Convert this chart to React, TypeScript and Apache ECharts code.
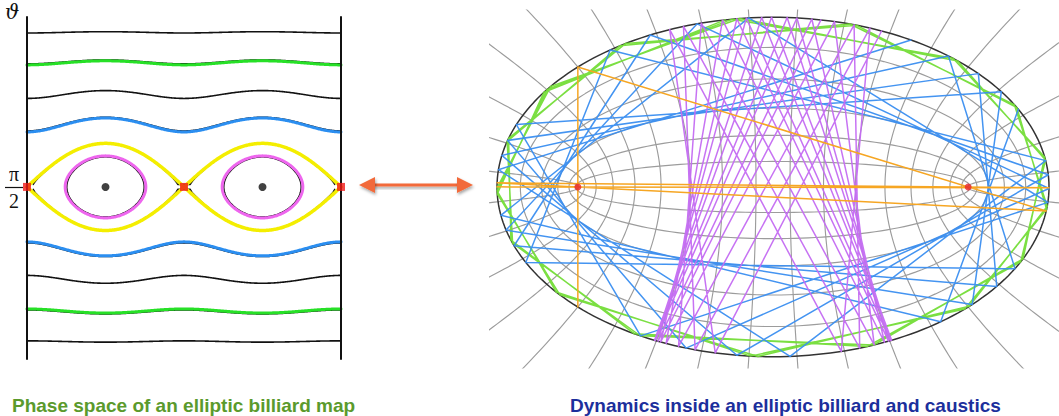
import React, { useEffect, useRef } from 'react';
import * as echarts from 'echarts';

// ---------- Left panel: phase space of the elliptic billiard map ----------
const mapAxisRatio = 0.92; // b/a of the ellipse whose billiard map is drawn
const mapWaveDeviations = [0.508, 0.818, 1.128, 1.423]; // |theta - pi/2| at s = 0 (rad)
const mapWaveColors = ['#2b8ef0', '#111111', '#27e027', '#111111'];
const mapWaveColored = [true, false, true, false];
const mapIslandDeviation = 0.287; // |theta - pi/2| at island centre (rad)
const mapHyperbolicPoints = [0, Math.PI, 2 * Math.PI]; // s of the 2-periodic major-axis orbit
const mapEllipticPoints = [Math.PI / 2, (3 * Math.PI) / 2]; // s of the minor-axis orbit

// ---------- Right panel: billiard table, confocal grid, caustics ----------
const tableSemiAxes = [1, 0.7071];
const gridEllipseMu = [0.15, 0.3, 0.45, 0.6, 0.75];
const gridHyperbolaNuDeg = [5, 15, 25, 35, 45, 55, 65, 75, 85, 95, 105, 115, 125, 135, 145, 155, 165, 175,
  185, 195, 205, 215, 225, 235, 245, 255, 265, 275, 285, 295, 305, 315, 325, 335, 345, 355];
const causticLevels = [0.41, 0.107, -0.4075]; // green, blue, purple (product of focal distances)
const orbitStartDeg = [100, 60, 80];
const orbitBounces = [36, 28, 30];
const orbitColors = ['#74dd38', '#3a8ef0', '#c46cf2'];
const focalOrbitStartDeg = 135;
const focalOrbitSteps = [4, 1]; // backward, forward

// ---------- geometry helpers ----------
type P = [number, number];
function ellipsePoint(a: number, b: number, phi: number): P {
  return [a * Math.cos(phi), b * Math.sin(phi)];
}
function frame(a: number, b: number, phi: number) {
  let tx = -a * Math.sin(phi), ty = b * Math.cos(phi);
  const l = Math.hypot(tx, ty);
  tx /= l; ty /= l;
  return { tx, ty, nx: -ty, ny: tx };
}
function direction(a: number, b: number, phi: number, theta: number): P {
  const f = frame(a, b, phi);
  return [Math.cos(theta) * f.tx + Math.sin(theta) * f.nx, Math.cos(theta) * f.ty + Math.sin(theta) * f.ny];
}
function focalProduct(a: number, b: number, p: P, u: P) {
  const c = Math.sqrt(a * a - b * b);
  const l1 = (p[0] + c) * u[1] - p[1] * u[0];
  const l2 = (p[0] - c) * u[1] - p[1] * u[0];
  return l1 * l2;
}
function levelAt(a: number, b: number, phi: number, theta: number) {
  return focalProduct(a, b, ellipsePoint(a, b, phi), direction(a, b, phi, theta));
}
function solveTheta(a: number, b: number, phi: number, F: number): number | null {
  if (levelAt(a, b, phi, Math.PI / 2) > F + 1e-12) return null;
  let lo = 0, hi = Math.PI / 2;
  for (let i = 0; i < 50; i++) {
    const m = (lo + hi) / 2;
    if (levelAt(a, b, phi, m) > F) lo = m; else hi = m;
  }
  return (lo + hi) / 2;
}
function bounce(a: number, b: number, p: P, u: P) {
  const A2 = a * a, B2 = b * b;
  const qa = (u[0] * u[0]) / A2 + (u[1] * u[1]) / B2;
  const qb = 2 * ((p[0] * u[0]) / A2 + (p[1] * u[1]) / B2);
  const t = -qb / qa;
  let q: P = [p[0] + t * u[0], p[1] + t * u[1]];
  const s = Math.sqrt((q[0] * q[0]) / A2 + (q[1] * q[1]) / B2);
  q = [q[0] / s, q[1] / s];
  let nx = q[0] / A2, ny = q[1] / B2;
  const nl = Math.hypot(nx, ny);
  nx /= nl; ny /= nl;
  const d = u[0] * nx + u[1] * ny;
  return { q, u: [u[0] - 2 * d * nx, u[1] - 2 * d * ny] as P };
}
function orbit(a: number, b: number, p: P, u: P, n: number): P[] {
  const pts: P[] = [p];
  for (let i = 0; i < n; i++) {
    const r = bounce(a, b, p, u);
    p = r.q; u = r.u;
    pts.push(p);
  }
  return pts;
}

// ---------- build series ----------
function buildSeries() {
  const series: any[] = [];
  const la = 1, lb = mapAxisRatio, lc = Math.sqrt(la * la - lb * lb);
  const L = (data: any[], color: string, width: number, z: number, grid = 0, opacity = 1) => ({
    type: 'line', xAxisIndex: grid, yAxisIndex: grid, data, showSymbol: false, symbol: 'none',
    silent: true, z, clip: true, lineStyle: { color, width, opacity, cap: 'round', join: 'round' },
  });

  const fullCurve = (F: number) => {
    const up: P[] = [], lo: P[] = [];
    const N = 400;
    for (let i = 0; i <= N; i++) {
      const phi = (2 * Math.PI * i) / N;
      const th = solveTheta(la, lb, phi, F);
      if (th === null) continue;
      up.push([phi, Math.PI - th]);
      lo.push([phi, th]);
    }
    return [up, lo];
  };
  const island = (F: number, centre: number) => {
    const half = Math.PI / 2 - Math.asin(Math.min(1, Math.sqrt(-F) / lc));
    const up: P[] = [], lo: P[] = [];
    const N = 160;
    for (let i = 0; i <= N; i++) {
      const phi = centre - half * Math.cos((Math.PI * i) / N);
      const th = solveTheta(la, lb, phi, F);
      const t = th === null ? Math.PI / 2 : th;
      up.push([phi, Math.PI - t]);
      lo.push([phi, t]);
    }
    return up.concat(lo.reverse());
  };

  series.push(L([[0, -0.02], [0, Math.PI]], '#111', 2, 5));
  series.push(L([[2 * Math.PI, -0.02], [2 * Math.PI, Math.PI]], '#111', 2, 5));

  mapWaveDeviations.forEach((d, i) => {
    const F = levelAt(la, lb, 0, Math.PI / 2 - d);
    if (mapWaveColored[i]) {
      const Fb = levelAt(la, lb, 0, Math.PI / 2 - d - 0.01);
      fullCurve(Fb).forEach((c) => series.push(L(c, '#111', 1.4, 3)));
      fullCurve(F).forEach((c) => series.push(L(c, mapWaveColors[i], 3, 4)));
    } else {
      fullCurve(F).forEach((c) => series.push(L(c, mapWaveColors[i], 1.6, 3)));
    }
  });
  fullCurve(-0.002).forEach((c) => series.push(L(c, '#111', 1.4, 3)));
  fullCurve(0).forEach((c) => series.push(L(c, '#f4ee00', 3.5, 4)));
  const Fi = levelAt(la, lb, Math.PI / 2, Math.PI / 2 - mapIslandDeviation);
  const Fib = levelAt(la, lb, Math.PI / 2, Math.PI / 2 - mapIslandDeviation + 0.01);
  mapEllipticPoints.forEach((cx) => {
    series.push(L(island(Fib, cx), '#111', 1.3, 3));
    series.push(L(island(Fi, cx), '#ee66ee', 3, 4));
  });
  series.push({
    type: 'scatter', xAxisIndex: 0, yAxisIndex: 0, silent: true, z: 6, clip: false,
    symbol: 'circle', symbolSize: 8, itemStyle: { color: '#111' },
    data: mapEllipticPoints.map((s) => [s, Math.PI / 2]),
  });
  series.push({
    type: 'scatter', xAxisIndex: 0, yAxisIndex: 0, silent: true, z: 6, clip: false,
    symbol: 'rect', symbolSize: 8, itemStyle: { color: '#f01818' },
    data: mapHyperbolicPoints.map((s) => [s, Math.PI / 2]),
  });

  // ---------- right panel ----------
  const [A, B] = tableSemiAxes;
  const C = Math.sqrt(A * A - B * B);
  gridHyperbolaNuDeg.forEach((deg) => {
    const nu = (deg * Math.PI) / 180;
    const pts: P[] = [];
    for (let m = 0; m <= 1.6001; m += 0.02) pts.push([C * Math.cosh(m) * Math.cos(nu), C * Math.sinh(m) * Math.sin(nu)]);
    series.push(L(pts, '#9c9c9c', 1.15, 1, 1));
  });
  gridEllipseMu.forEach((mu) => {
    const pts: P[] = [];
    for (let i = 0; i <= 180; i++) {
      const nu = (2 * Math.PI * i) / 180;
      pts.push([C * Math.cosh(mu) * Math.cos(nu), C * Math.sinh(mu) * Math.sin(nu)]);
    }
    series.push(L(pts, '#9c9c9c', 1.15, 1, 1));
  });
  const boundary: P[] = [];
  for (let i = 0; i <= 240; i++) boundary.push(ellipsePoint(A, B, (2 * Math.PI * i) / 240));
  series.push(L(boundary, '#333', 1.5, 2, 1));

  causticLevels.forEach((F, k) => {
    const phi = (orbitStartDeg[k] * Math.PI) / 180;
    const th = solveTheta(A, B, phi, F) ?? Math.PI / 4;
    const pts = orbit(A, B, ellipsePoint(A, B, phi), direction(A, B, phi, th), orbitBounces[k]);
    series.push(L(pts, orbitColors[k], 1.5, 3 + k, 1, 0.95));
  });

  const phi0 = (focalOrbitStartDeg * Math.PI) / 180;
  const p0 = ellipsePoint(A, B, phi0);
  const toward = (q: [number, number]): P => {
    const dx = q[0] - p0[0], dy = q[1] - p0[1], l = Math.hypot(dx, dy);
    return [dx / l, dy / l];
  };
  const back = orbit(A, B, p0, toward([C, 0]), focalOrbitSteps[0]).reverse();
  const fwd = orbit(A, B, p0, toward([-C, 0]), focalOrbitSteps[1]).slice(1);
  series.push(L(back.concat(fwd), '#f6a623', 1.5, 7, 1));
  series.push({
    type: 'scatter', xAxisIndex: 1, yAxisIndex: 1, silent: true, z: 8,
    symbol: 'circle', symbolSize: 7, itemStyle: { color: '#e8262a' },
    data: [[-C, 0], [C, 0]],
  });
  return series;
}

export default function App() {
  const ref = useRef<HTMLDivElement>(null);
  useEffect(() => {
    if (!ref.current) return;
    const chart = echarts.init(ref.current, undefined, { renderer: 'svg' });
    const axisOff = { show: false, splitLine: { show: false } };
    const arrowColor = '#f26b3b';
    const shadow = { shadowBlur: 3, shadowColor: 'rgba(0,0,0,0.35)', shadowOffsetX: 1, shadowOffsetY: 2 };
    const titleFont = 'bold 19px "Liberation Sans", Arial, sans-serif';
    chart.setOption({
      animation: false,
      backgroundColor: '#ffffff',
      grid: [
        { left: 27, top: 17, width: 314, height: 342 },
        { left: 490, top: 10, width: 569, height: 358 },
      ],
      xAxis: [
        { type: 'value', gridIndex: 0, min: 0, max: 2 * Math.PI, ...axisOff },
        { type: 'value', gridIndex: 1, min: -1.0254, max: 1.0362, ...axisOff },
      ],
      yAxis: [
        { type: 'value', gridIndex: 0, min: -0.02, max: Math.PI, ...axisOff },
        { type: 'value', gridIndex: 1, min: -0.7542, max: 0.7375, ...axisOff },
      ],
      series: buildSeries(),
      graphic: [
        { type: 'text', left: 5, top: 2, style: { text: 'ϑ', font: 'italic 20px "DejaVu Serif", serif', fill: '#111' } },
        { type: 'text', x: 14, y: 174, style: { text: 'π', font: '20px "Liberation Serif", serif', fill: '#111', align: 'center', verticalAlign: 'middle' } },
        { type: 'line', shape: { x1: 5, y1: 187.5, x2: 23, y2: 187.5 }, style: { stroke: '#111', lineWidth: 1.2 } },
        { type: 'text', x: 14, y: 201, style: { text: '2', font: '20px "Liberation Serif", serif', fill: '#111', align: 'center', verticalAlign: 'middle' } },
        { type: 'rect', shape: { x: 370, y: 183.5, width: 92, height: 3 }, style: { fill: arrowColor, ...shadow } },
        { type: 'polygon', shape: { points: [[359, 185], [375, 177], [375, 193]] }, style: { fill: arrowColor, ...shadow } },
        { type: 'polygon', shape: { points: [[473, 185], [457, 177], [457, 193]] }, style: { fill: arrowColor, ...shadow } },
        { type: 'text', x: 12, y: 405, style: { text: 'Phase space of an elliptic billiard map', font: titleFont, fill: '#5b9a2c', verticalAlign: 'middle' } },
        { type: 'text', x: 570, y: 405, style: { text: 'Dynamics inside an elliptic billiard and caustics', font: titleFont, fill: '#1c2f9c', verticalAlign: 'middle' } },
      ],
    });
    return () => chart.dispose();
  }, []);
  return <div ref={ref} style={{ position: 'fixed', left: 0, top: 0, width: 1059, height: 416 }} />;
}
